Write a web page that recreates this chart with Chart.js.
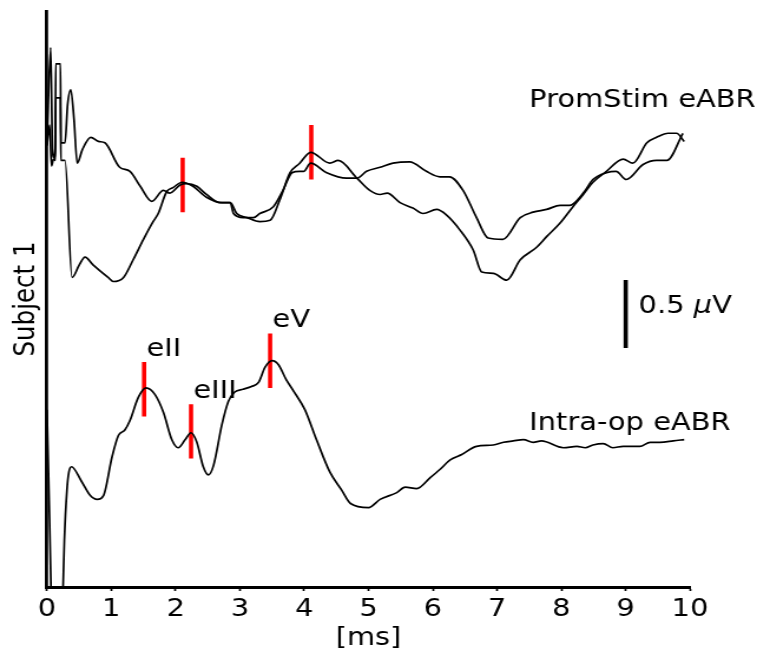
<!DOCTYPE html>
<html>
<head>
<meta charset="utf-8">
<script src="https://cdn.jsdelivr.net/npm/chart.js@4"></script>
<style>
  html, body { margin: 0; padding: 0; background: #fff; overflow: hidden; }
  /* the figure is drawn narrow and widened to the page width */
  #wrap { width: 642px; height: 655px; transform: scaleX(1.17913); transform-origin: 0 0; }
</style>
</head>
<body>
<div id="wrap"><canvas id="eabrChart" width="642" height="655"></canvas></div>
<script>
// eABR traces for subject 1, amplitudes in µV relative to each trace's baseline
const promTimeA = [0, 0.04, 0.07, 0.10, 0.13, 0.135, 0.21, 0.215, 0.28, 0.39, 0.50, 0.59, 0.72, 0.82, 0.95, 1.03, 1.19, 1.34, 1.50, 1.65, 1.73, 1.86, 1.96, 2.10, 2.27, 2.48, 2.72, 2.85, 2.90, 3.05, 3.21, 3.31, 3.52, 3.67, 3.81, 3.93, 3.99, 4.10, 4.35, 4.66, 4.82, 4.97, 5.18, 5.38, 5.64, 5.90, 6.11, 6.26, 6.47, 6.68, 6.86, 7.09, 7.36, 7.56, 7.77, 7.98, 8.13, 8.34, 8.49, 8.70, 8.85, 9.01, 9.27, 9.48, 9.64, 9.89];
const promAmpA = [0.40, 0.55, 0.25, 0.30, 0.29, 0.75, 0.75, 0.29, 0.29, -0.57, -0.48, -0.42, -0.48, -0.52, -0.57, -0.60, -0.57, -0.44, -0.29, -0.16, -0.10, 0.06, 0.09, 0.13, 0.10, 0.02, -0.02, -0.02, -0.10, -0.13, -0.13, -0.10, -0.05, 0.07, 0.20, 0.21, 0.21, 0.27, 0.20, 0.16, 0.16, 0.21, 0.24, 0.27, 0.28, 0.21, 0.17, 0.17, 0.07, -0.13, -0.28, -0.29, -0.13, -0.09, -0.07, -0.04, -0.04, 0.05, 0.15, 0.20, 0.21, 0.15, 0.26, 0.29, 0.29, 0.49];

const promTimeB = [0, 0.057, 0.085, 0.11, 0.13, 0.135, 0.21, 0.215, 0.28, 0.32, 0.37, 0.42, 0.47, 0.55, 0.68, 0.80, 0.90, 1.13, 1.29, 1.45, 1.63, 1.81, 1.91, 2.07, 2.17, 2.33, 2.48, 2.69, 2.85, 2.95, 3.11, 3.31, 3.47, 3.62, 3.78, 3.93, 4.10, 4.40, 4.53, 4.82, 5.02, 5.18, 5.29, 5.49, 5.69, 5.85, 6.06, 6.21, 6.42, 6.63, 6.76, 6.94, 7.15, 7.36, 7.61, 7.77, 7.98, 8.18, 8.34, 8.49, 8.70, 8.96, 9.11, 9.33, 9.48, 9.66, 9.79, 9.91];
const promAmpB = [0.40, 1.12, 0.37, 0.31, 0.40, 1.00, 1.00, 0.42, 0.42, 0.70, 0.81, 0.59, 0.27, 0.37, 0.46, 0.43, 0.42, 0.24, 0.21, 0.10, -0.01, 0.07, 0.05, 0.11, 0.12, 0.10, 0.04, -0.02, -0.02, -0.10, -0.13, -0.16, -0.15, 0.00, 0.20, 0.27, 0.35, 0.27, 0.29, 0.16, 0.07, 0.04, 0.05, -0.02, -0.06, -0.10, -0.07, -0.11, -0.22, -0.37, -0.53, -0.54, -0.59, -0.44, -0.35, -0.27, -0.17, -0.05, 0.04, 0.13, 0.21, 0.30, 0.27, 0.42, 0.46, 0.49, 0.49, 0.43];

const intraTime = [0, 0.04, 0.08, 0.16, 0.24, 0.27, 0.31, 0.34, 0.38, 0.54, 0.67, 0.78, 0.88, 1.01, 1.11, 1.21, 1.29, 1.42, 1.54, 1.68, 1.81, 1.94, 2.04, 2.15, 2.24, 2.33, 2.43, 2.51, 2.59, 2.72, 2.82, 2.92, 3.05, 3.18, 3.29, 3.39, 3.50, 3.60, 3.72, 3.83, 4.01, 4.19, 4.40, 4.58, 4.72, 5.00, 5.18, 5.44, 5.57, 5.75, 5.96, 6.11, 6.27, 6.45, 6.68, 6.94, 7.10, 7.25, 7.41, 7.56, 7.69, 8.03, 8.24, 8.37, 8.49, 8.65, 8.80, 8.96, 9.22, 9.38, 9.53, 9.74, 9.91];
const intraAmp = [0.26, -0.55, -1.43, -1.88, -1.21, -0.70, -0.33, -0.20, -0.16, -0.27, -0.37, -0.40, -0.37, -0.09, 0.07, 0.11, 0.18, 0.35, 0.42, 0.37, 0.24, 0.04, -0.02, 0.04, 0.09, 0.02, -0.16, -0.22, -0.15, 0.15, 0.32, 0.39, 0.41, 0.43, 0.46, 0.57, 0.62, 0.59, 0.48, 0.40, 0.26, 0.04, -0.20, -0.33, -0.43, -0.46, -0.40, -0.35, -0.31, -0.32, -0.24, -0.18, -0.11, -0.07, -0.01, 0.00, 0.02, 0.03, 0.04, 0.02, 0.03, -0.02, -0.01, -0.02, 0.00, 0.01, -0.02, -0.01, -0.01, 0.02, 0.02, 0.03, 0.04];

// picked peaks (latency in ms, amplitude in µV)
const promPeakTimes = [2.11, 4.11];
const promPeakAmps = [0.11, 0.35];
const intraPeakNames = ['eII', 'eIII', 'eV'];
const intraPeakTimes = [1.51, 2.24, 3.47];
const intraPeakAmps = [0.41, 0.10, 0.62];

const xTicks = [0, 1, 2, 3, 4, 5, 6, 7, 8, 9, 10];

// vertical stacking of the two recordings
const PROM_OFFSET = 2.846;
const INTRA_OFFSET = 1.044;
const Y_MAX = 4.235;
const MARK_HALF = 0.2;

// 0.5 µV scale bar
const SCALE_BAR_T = 9.0;
const SCALE_BAR_LOW = 1.757;
const SCALE_BAR_SIZE = 0.5;

const FONT_FAMILY = '"DejaVu Sans", sans-serif';
const FONT_SIZE = 24.5;

function toPoints(times, amps, offset) {
    return times.map((t, i) => ({ x: t, y: amps[i] + offset }));
}

function traceDataset(times, amps, offset) {
    return {
        data: toPoints(times, amps, offset),
        borderColor: '#000',
        borderWidth: 1.7,
        pointRadius: 0,
        cubicInterpolationMode: 'monotone',
        fill: false
    };
}

function markDataset(t, amp, offset) {
    return {
        data: [{ x: t, y: amp + offset - MARK_HALF }, { x: t, y: amp + offset + MARK_HALF }],
        borderColor: '#ff0000',
        borderWidth: 3.6,
        borderCapStyle: 'butt',
        pointRadius: 0,
        fill: false
    };
}

const datasets = [
    traceDataset(promTimeA, promAmpA, PROM_OFFSET),
    traceDataset(promTimeB, promAmpB, PROM_OFFSET),
    traceDataset(intraTime, intraAmp, INTRA_OFFSET)
];
promPeakTimes.forEach((t, i) => datasets.push(markDataset(t, promPeakAmps[i], PROM_OFFSET)));
intraPeakTimes.forEach((t, i) => datasets.push(markDataset(t, intraPeakAmps[i], INTRA_OFFSET)));
datasets.push({
    data: [{ x: SCALE_BAR_T, y: SCALE_BAR_LOW }, { x: SCALE_BAR_T, y: SCALE_BAR_LOW + SCALE_BAR_SIZE }],
    borderColor: '#000',
    borderWidth: 3.6,
    borderCapStyle: 'butt',
    pointRadius: 0
});

// text labels: trace names, peak names, scale bar caption
const annotations = {
    id: 'annotations',
    afterDatasetsDraw(chart) {
        const { ctx, scales: { x, y } } = chart;
        ctx.save();
        ctx.fillStyle = '#000';
        ctx.font = FONT_SIZE + 'px ' + FONT_FAMILY;
        ctx.textAlign = 'left';
        ctx.textBaseline = 'alphabetic';

        ctx.fillText('PromStim eABR', x.getPixelForValue(7.5), y.getPixelForValue(3.532));
        ctx.fillText('Intra-op eABR', x.getPixelForValue(7.5), y.getPixelForValue(1.158));

        intraPeakNames.forEach((name, i) => {
            const px = x.getPixelForValue(intraPeakTimes[i]) + 2;
            const py = y.getPixelForValue(intraPeakAmps[i] + INTRA_OFFSET + MARK_HALF) - 6;
            ctx.fillText(name, px, py);
        });

        // "0.5 µV" with an italic mu
        let cx = x.getPixelForValue(9.2);
        const cy = y.getPixelForValue(SCALE_BAR_LOW + SCALE_BAR_SIZE / 2) - 1;
        ctx.fillText('0.5 ', cx, cy);
        cx += ctx.measureText('0.5 ').width;
        ctx.font = 'oblique ' + FONT_SIZE + 'px ' + FONT_FAMILY;
        ctx.fillText('\u03bc', cx, cy);
        cx += ctx.measureText('\u03bc').width;
        ctx.font = FONT_SIZE + 'px ' + FONT_FAMILY;
        ctx.fillText('V', cx, cy);
        ctx.restore();
    }
};

new Chart(document.getElementById('eabrChart'), {
    type: 'line',
    data: { datasets: datasets },
    options: {
        responsive: false,
        animation: false,
        events: [],
        layout: { padding: { left: 0, right: 56.83, top: 11, bottom: 0 } },
        plugins: {
            legend: { display: false },
            tooltip: { enabled: false }
        },
        scales: {
            x: {
                type: 'linear',
                min: 0,
                max: 10,
                afterBuildTicks: (scale) => { scale.ticks = xTicks.map(v => ({ value: v })); },
                afterFit: (scale) => { scale.height = 68; },
                grid: {
                    drawOnChartArea: false,
                    drawTicks: true,
                    tickLength: 4,
                    tickWidth: 1.7,
                    tickColor: '#000'
                },
                border: { display: true, color: '#000', width: 3 },
                ticks: {
                    color: '#000',
                    padding: 4,
                    maxRotation: 0,
                    font: { family: FONT_FAMILY, size: FONT_SIZE }
                },
                title: {
                    display: true,
                    text: '[ms]',
                    color: '#000',
                    padding: { top: 0, bottom: 2 },
                    font: { family: FONT_FAMILY, size: FONT_SIZE }
                }
            },
            y: {
                type: 'linear',
                min: 0,
                max: Y_MAX,
                afterFit: (scale) => { scale.width = 39.86; },
                grid: { display: false },
                border: { display: true, color: '#000', width: 2.8 },
                ticks: { display: false },
                title: {
                    display: true,
                    text: 'Subject 1',
                    color: '#000',
                    padding: { top: 8, bottom: 0 },
                    font: { family: FONT_FAMILY, size: FONT_SIZE }
                }
            }
        }
    },
    plugins: [annotations]
});
</script>
</body>
</html>
